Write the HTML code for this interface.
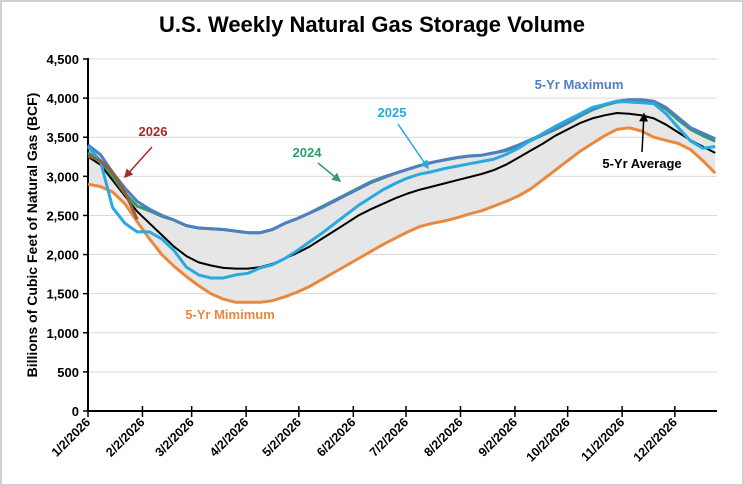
<!DOCTYPE html>
<html><head><meta charset="utf-8"><style>
body{margin:0;background:#fff}
#wrap{position:relative;width:744px;height:486px;overflow:hidden;font-family:"Liberation Sans",sans-serif}
svg text{font-family:"Liberation Sans",sans-serif;font-weight:bold}
</style></head><body>
<div id="wrap">
<svg id="chart" width="744" height="486"></svg>
</div>
<script>
const xLabels=["1/2/2026","2/2/2026","3/2/2026","4/2/2026","5/2/2026","6/2/2026","7/2/2026","8/2/2026","9/2/2026","10/2/2026","11/2/2026","12/2/2026"];
const xTickDays=[0,31,59,90,120,151,181,212,243,273,304,334];
const yTicks=[0,500,1000,1500,2000,2500,3000,3500,4000,4500];
const avg5=[3250,3150,2950,2750,2550,2400,2250,2100,1980,1900,1860,1830,1820,1820,1840,1880,1950,2020,2100,2200,2300,2400,2500,2580,2650,2720,2780,2830,2870,2910,2950,2990,3030,3080,3150,3240,3330,3420,3520,3600,3680,3740,3780,3810,3800,3780,3740,3660,3560,3460,3380,3300];
const max5=[3400,3280,3050,2850,2680,2580,2500,2440,2370,2340,2330,2320,2300,2280,2280,2320,2400,2460,2530,2600,2680,2760,2840,2920,2980,3040,3090,3140,3180,3210,3240,3260,3270,3300,3340,3400,3470,3540,3610,3690,3780,3860,3920,3960,3980,3980,3960,3880,3750,3620,3550,3480];
const min5=[2900,2870,2800,2650,2420,2200,2000,1850,1720,1600,1500,1430,1390,1390,1390,1410,1460,1520,1590,1680,1770,1860,1950,2040,2130,2210,2290,2360,2400,2430,2470,2520,2560,2620,2680,2750,2840,2960,3080,3200,3320,3420,3520,3600,3620,3580,3500,3460,3420,3340,3200,3040];
const s2025=[3380,3200,2600,2400,2290,2290,2200,2050,1840,1740,1700,1700,1740,1760,1830,1870,1950,2050,2160,2270,2390,2510,2630,2730,2830,2910,2980,3030,3060,3100,3130,3160,3190,3220,3280,3360,3460,3550,3640,3720,3800,3880,3920,3960,3950,3940,3930,3800,3620,3450,3360,3380];
const s2024=[3300,3200,3000,2780,2620,2560,2490,2440,2370,2340,2330,2320,2300,2280,2280,2320,2400,2460,2530,2610,2690,2770,2850,2930,2990,3040,3090,3140,3180,3210,3240,3260,3270,3300,3330,3390,3460,3530,3600,3680,3770,3850,3910,3950,3960,3960,3940,3860,3720,3600,3520,3450];
const s2026=[3260,3200,3050,2800,2450];
const NS="http://www.w3.org/2000/svg";
const svg=document.getElementById('chart');
const X0=88,Y0=411,YT=59;
function xDay(d){return X0+d*1.757;}
function xW(w){return xDay(w*7);}
function yV(v){return Y0-(v/4500)*(Y0-YT);}
function mk(tag,attrs,parent){const e=document.createElementNS(NS,tag);for(const k in attrs)e.setAttribute(k,attrs[k]);(parent||svg).appendChild(e);return e;}
function pts(arr){return arr.map((v,i)=>xW(i).toFixed(1)+","+yV(v).toFixed(1)).join(" ");}
// frame
let fr=mk('rect',{x:1,y:1,width:742,height:484,fill:'#fff',stroke:'#d0d0d0','stroke-width':2});


let t=mk('text',{x:372,y:32,'text-anchor':'middle','font-size':22,fill:'#000'});t.textContent='U.S. Weekly Natural Gas Storage Volume';


// gridlines & y labels
yTicks.forEach(v=>{
  if(v>0){let g=mk('line',{x1:X0,x2:717,y1:yV(v),y2:yV(v),stroke:'#d9d9d9','stroke-width':1});
  
  }
  let tk=mk('line',{x1:X0-5,x2:X0,y1:yV(v),y2:yV(v),stroke:'#000','stroke-width':1.5});
  
  
  let l=mk('text',{x:X0-9,y:yV(v)+5,'text-anchor':'end','font-size':13,fill:'#000'});l.textContent=v.toLocaleString('en-US');
  
  
});
let yt=mk('text',{x:0,y:0,transform:'translate(37,235) rotate(-90)','text-anchor':'middle','font-size':14,fill:'#000'});yt.textContent='Billions of Cubic Feet of Natural Gas (BCF)';


// band
let band=mk('polygon',{points:pts(max5)+" "+min5.map((v,i)=>[i,v]).reverse().map(([i,v])=>xW(i).toFixed(1)+","+yV(v).toFixed(1)).join(" "),fill:'#e6e6e6',stroke:'none'});


// axes
let ya=mk('line',{x1:X0,x2:X0,y1:YT-1,y2:Y0,stroke:'#000','stroke-width':2});


let xa=mk('line',{x1:X0,x2:717,y1:Y0,y2:Y0,stroke:'#000','stroke-width':2});


xTickDays.forEach((d,i)=>{
  let tk=mk('line',{x1:xDay(d),x2:xDay(d),y1:Y0-5,y2:Y0+6,stroke:'#000','stroke-width':1.5});
  
  
  let l=mk('text',{x:0,y:0,transform:`translate(${xDay(d)+3},${Y0+12}) rotate(-45)`,'text-anchor':'end','font-size':12.5,fill:'#000'});l.textContent=xLabels[i];
  
  
});
// series
function line(arr,color,w,name){let p=mk('polyline',{points:pts(arr),fill:'none',stroke:color,'stroke-width':w,'stroke-linejoin':'round'});

}
line(min5,'#e8893f',3,'series-5yr-minimum');
line(avg5,'#000',2,'series-5yr-average');
line(s2024,'#2e9e6b',3,'series-2024');
line(max5,'#4f7fbf',3,'series-5yr-maximum');
line(s2025,'#29a9e0',3,'series-2025');
line(s2026,'#9b5b3a',3,'series-2026');
// annotations
mk('defs',{}).innerHTML='<marker id="ah" markerWidth="6" markerHeight="6" refX="5" refY="3" orient="auto"><path d="M0,0 L6,3 L0,6 z" fill="context-stroke"/></marker>';
function ann(txt,x,y,color,name,arrow){
  let l=mk('text',{x:x,y:y,'text-anchor':'middle','font-size':13,fill:color});l.textContent=txt;
  
  
  if(arrow){let a=mk('line',{x1:arrow[0],y1:arrow[1],x2:arrow[2],y2:arrow[3],stroke:color,'stroke-width':1.5,'marker-end':'url(#ah)'});
  
  }
}
ann('2026',153,136,'#a52a2a','label-2026',[152,147,125,177]);
ann('2024',307,157,'#2e9e6b','label-2024',[318,163,340,181]);
ann('2025',392,117,'#29a9e0','label-2025',[398,124,428,168]);
ann('5-Yr Maximum',579,89,'#4f7fbf','label-5yr-maximum',null);
ann('5-Yr Average',642,168,'#000','label-5yr-average',[642,152,644,114]);
ann('5-Yr Mimimum',230,319,'#e8893f','label-5yr-minimum',null);
</script>
</body></html>
